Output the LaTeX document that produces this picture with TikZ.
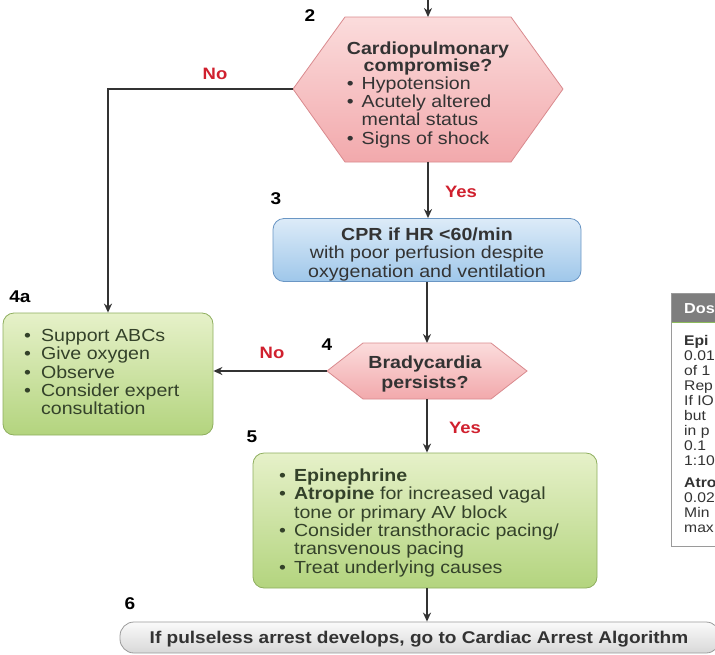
\documentclass[tikz,border=0pt]{standalone}
\usepackage{fontspec}
\setmainfont{Liberation Sans}[FakeStretch=1.12]
\usetikzlibrary{arrows.meta}
\definecolor{linec}{HTML}{333333}
\definecolor{textc}{HTML}{333333}
\definecolor{greentext}{HTML}{34422A}
\definecolor{redc}{HTML}{D0202E}
\definecolor{pinktop}{HTML}{FBDCDC}
\definecolor{pinkbot}{HTML}{F2A9AC}
\definecolor{pinkedge}{HTML}{D98A8E}
\definecolor{bluetop}{HTML}{DCEBF8}
\definecolor{bluebot}{HTML}{9FC7EA}
\definecolor{blueedge}{HTML}{6A96C4}
\definecolor{greentop}{HTML}{E6F1C9}
\definecolor{greenbot}{HTML}{B3D47E}
\definecolor{greenedge}{HTML}{8EAE5E}
\definecolor{graytop}{HTML}{FAFAFA}
\definecolor{graybot}{HTML}{D8D8D8}
\definecolor{grayedge}{HTML}{9A9A9A}
\definecolor{headc}{HTML}{7E7E7E}
\definecolor{headline}{HTML}{8DBB5C}
\begin{document}
\begin{tikzpicture}[x=1pt,y=-1pt,
  conn/.style={draw=linec, line width=1.5pt, -{Stealth[length=9pt,width=8pt]}},
  txt/.style={font=\fontsize{17.5}{18.3}\selectfont, text=textc, inner sep=0pt},
  gtxt/.style={txt, text=greentext},
  lbl/.style={font=\bfseries\fontsize{16.5}{16.5}\selectfont, text=redc, inner sep=0pt},
  stepnum/.style={font=\bfseries\fontsize{17}{17}\selectfont, text=black, inner sep=0pt},
  rbox/.style={rounded corners=11pt, line width=0.8pt, inner sep=0pt},
  hexa/.style={draw=pinkedge, line width=0.8pt, top color=pinktop, bottom color=pinkbot},
  dtxt/.style={font=\fontsize{14}{15}\selectfont, text=textc, inner sep=0pt},
]
\useasboundingbox (0,0) rectangle (715,654);

% ---------- hexagon 2 ----------
\coordinate (top) at (428,0);
\coordinate (h1n) at (428,17);
\coordinate (h1s) at (428,162);
\coordinate (h1w) at (293,89);
\coordinate (h1e) at (563,89);
\draw[hexa] (345,17) -- (511,17) -- (h1e) -- (511,162) -- (345,162) -- (h1w) -- cycle;
\node[txt, anchor=north] (t1) at (428,41.5) {%
  \begin{tabular}{@{}l@{\hspace{8pt}}l@{}}
  \multicolumn{2}{@{}c@{}}{\bfseries Cardiopulmonary}\\[-1pt]
  \multicolumn{2}{@{}c@{}}{\bfseries compromise?}\\[-1pt]
  \textbullet & Hypotension\\
  \textbullet & Acutely altered\\
   & mental status\\
  \textbullet & Signs of shock
  \end{tabular}};

% ---------- box 3 ----------
\node[rbox, draw=blueedge, top color=bluetop, bottom color=bluebot,
      minimum width=308pt, minimum height=63pt] (b3) at (427,250) {};
\node[txt, anchor=north] (t3) at (427,227.5) {%
  \begin{tabular}{@{}c@{}}
  \bfseries CPR if HR <60/min\\
  with poor perfusion despite\\
  oxygenation and ventilation
  \end{tabular}};

% ---------- hexagon 4 ----------
\coordinate (h2n) at (427,343);
\coordinate (h2s) at (427,399);
\coordinate (h2w) at (327,371);
\coordinate (h2e) at (527,371);
\draw[hexa] (363,343) -- (491,343) -- (h2e) -- (491,399) -- (363,399) -- (h2w) -- cycle;
\node[txt, anchor=north] (t2) at (425,355.5) {%
  \begin{tabular}{@{}c@{}}
  \bfseries Bradycardia\\[1.5pt]
  \bfseries persists?
  \end{tabular}};

% ---------- box 4a ----------
\node[rbox, draw=greenedge, top color=greentop, bottom color=greenbot,
      minimum width=210pt, minimum height=122pt] (b4a) at (108,374) {};
\node[gtxt, anchor=north west] (t4a) at (24,328.5) {%
  \begin{tabular}{@{}l@{\hspace{10pt}}l@{}}
  \textbullet & Support ABCs\\
  \textbullet & Give oxygen\\
  \textbullet & Observe\\
  \textbullet & Consider expert\\
   & consultation
  \end{tabular}};

% ---------- box 5 ----------
\node[rbox, draw=greenedge, top color=greentop, bottom color=greenbot,
      minimum width=344pt, minimum height=135pt] (b5) at (425,520.5) {};
\node[gtxt, anchor=north west] (t5) at (279,468.5) {%
  \begin{tabular}{@{}l@{\hspace{8pt}}l@{}}
  \textbullet & \bfseries Epinephrine\\
  \textbullet & \textbf{Atropine} for increased vagal\\
   & tone or primary AV block\\
  \textbullet & Consider transthoracic pacing/\\
   & transvenous pacing\\
  \textbullet & Treat underlying causes
  \end{tabular}};

% ---------- box 6 and dosing box (clipped at picture edge) ----------
\begin{scope}
\clip (0,0) rectangle (715,654);
\node[rbox, rounded corners=14pt, draw=grayedge, top color=graytop, bottom color=graybot,
      minimum width=600pt, minimum height=31pt] (b6) at (420,637.5) {};
\node[txt, font=\bfseries\fontsize{17}{18}\selectfont, anchor=center] (t6) at (419,639)
  {If pulseless arrest develops, go to Cardiac Arrest Algorithm};

\fill[white] (671,293) rectangle (760,546);
\fill[headc] (671,293) rectangle (760,322);
\draw[headline, line width=1pt] (671,322) -- (760,322);
\draw[grayedge, line width=1pt] (671,293) rectangle (760,546);
\node[font=\bfseries\fontsize{14.5}{15}\selectfont, text=white, anchor=west, inner sep=0pt]
  (dh) at (684,309) {Dos};
\node[dtxt, anchor=north west] (dbody) at (684,334.5) {%
  \begin{tabular}{@{}l@{}}
  \bfseries Epi\\
  0.01\\
  of 1\\
  Rep\\
  If IO\\
  but\\
  in p\\
  0.1\\
  1:10\\[7pt]
  \bfseries Atro\\
  0.02\\
  Min\\
  max
  \end{tabular}};
\end{scope}

% ---------- connectors ----------
\draw[conn] (top) -- (h1n);
\draw[conn] (h1w) -| (b4a.north);
\draw[conn] (h1s) -- (b3.north -| h1s);
\draw[conn] (b3.south -| h2n) -- (h2n);
\draw[conn] (h2w) -- (b4a.east |- h2w);
\draw[conn] (h2s) -- (b5.north -| h2s);
\draw[conn] (b5.south -| h2s) -- (b6.north -| h2s);

% ---------- labels ----------
\node[lbl] (no1) at (215,74) {No};
\node[lbl] (yes1) at (461,192) {Yes};
\node[lbl] (no2) at (272,353) {No};
\node[lbl] (yes2) at (465,428) {Yes};
\node[stepnum] (s2) at (310,16) {2};
\node[stepnum] (s3) at (276,199) {3};
\node[stepnum] (s4a) at (20,297) {4a};
\node[stepnum] (s4) at (327,345) {4};
\node[stepnum] (s5) at (252,437) {5};
\node[stepnum] (s6) at (130,604) {6};
\end{tikzpicture}
\end{document}
